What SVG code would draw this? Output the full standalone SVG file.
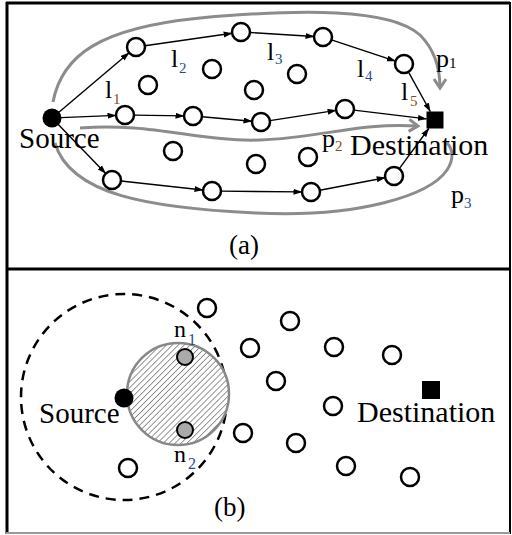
<svg xmlns="http://www.w3.org/2000/svg" width="512" height="535" viewBox="0 0 512 535">
<defs>
<marker id="ah" markerUnits="userSpaceOnUse" markerWidth="9" markerHeight="7" refX="8.5" refY="3" orient="auto"><path d="M0,0 L9,3 L0,6 z" fill="#000"/></marker>
<marker id="gh" markerUnits="userSpaceOnUse" markerWidth="14" markerHeight="16" refX="10" refY="7" orient="auto"><path d="M1,1 L10,7 L1,13" fill="none" stroke="#8c8c8c" stroke-width="3"/></marker>
<pattern id="hatch" patternUnits="userSpaceOnUse" width="4.2" height="4.2" patternTransform="rotate(45)"><rect width="4.2" height="4.2" fill="#fff"/><line x1="0" y1="0" x2="0" y2="4.2" stroke="#5e5e5e" stroke-width="1.3"/></pattern>
</defs>
<style>
.n{fill:#fff;stroke:#000;stroke-width:2.5}
.g{fill:#aaa;stroke:#000;stroke-width:2}
.e{stroke:#000;stroke-width:1.4;fill:none;marker-end:url(#ah)}
.c{stroke:#8c8c8c;stroke-width:3;fill:none}
.t{font-family:"Liberation Serif","Times New Roman",serif;fill:#000}
.b{fill:#2b4c8c}
.o{fill:#8a4b16}
</style>
<rect width="512" height="535" fill="#fff"/>
<g id="frame">
<line x1="6" y1="3" x2="510" y2="3" stroke="#000" stroke-width="3"/>
<line x1="7" y1="2" x2="7" y2="534" stroke="#000" stroke-width="3"/>
<line x1="510" y1="2" x2="510" y2="534" stroke="#000" stroke-width="2"/>
<line x1="6" y1="269" x2="510" y2="269" stroke="#000" stroke-width="3"/>
<line x1="6" y1="533" x2="510" y2="533" stroke="#999" stroke-width="2"/>
</g>
<g id="paths">
<path class="c" d="M53,102 C62,55 100,28 200,18 C300,9 390,8 420,35 C435,50 440,70 440,88" marker-end="url(#gh)"/>
<path class="c" d="M80,128 C150,122 200,142 260,140 C320,138 360,122 418,126" marker-end="url(#gh)"/>
<path class="c" d="M55,143 C70,195 150,208 256,213 C360,218 430,195 447,170 C455,158 452,148 447,143"/>
</g>
<g id="connectors">
<line class="e" x1="58.9" y1="112.2" x2="129.1" y2="52.8"/>
<line class="e" x1="144.9" y1="45.7" x2="232.1" y2="33.3"/>
<line class="e" x1="250" y1="32.5" x2="314" y2="36.5"/>
<line class="e" x1="331.5" y1="39.8" x2="395.5" y2="61.2"/>
<line class="e" x1="408.4" y1="71.9" x2="430.3" y2="111.5"/>
<line class="e" x1="61" y1="117.6" x2="116" y2="115.4"/>
<line class="e" x1="134" y1="115.1" x2="184" y2="115.9"/>
<line class="e" x1="202" y1="116.8" x2="252" y2="121.2"/>
<line class="e" x1="269.9" y1="120.6" x2="336.1" y2="110.4"/>
<line class="e" x1="353.9" y1="110.1" x2="426.5" y2="118.9"/>
<line class="e" x1="58.3" y1="124.5" x2="105.7" y2="173.5"/>
<line class="e" x1="121" y1="181" x2="203" y2="190"/>
<line class="e" x1="221" y1="191.1" x2="302" y2="191.9"/>
<line class="e" x1="319.8" y1="190.3" x2="385.2" y2="177.7"/>
<line class="e" x1="399.3" y1="168.7" x2="428.8" y2="128.5"/>
</g>
<g id="a-source"><circle cx="52" cy="118" r="9.5" fill="#000"/><text class="t" x="19" y="148" font-size="29">Source</text></g>
<g id="a-destination"><rect x="426.5" y="111.5" width="17" height="17" fill="#000"/><text class="t" x="350" y="155" font-size="30">Destination</text></g>
<g id="a-nodes">
<circle class="n" cx="136" cy="47" r="9"/>
<circle class="n" cx="241" cy="32" r="9"/>
<circle class="n" cx="323" cy="37" r="9"/>
<circle class="n" cx="404" cy="64" r="9"/>
<circle class="n" cx="125" cy="115" r="9"/>
<circle class="n" cx="193" cy="116" r="9"/>
<circle class="n" cx="261" cy="122" r="9"/>
<circle class="n" cx="345" cy="109" r="9"/>
<circle class="n" cx="112" cy="180" r="9"/>
<circle class="n" cx="212" cy="191" r="9"/>
<circle class="n" cx="311" cy="192" r="9"/>
<circle class="n" cx="394" cy="176" r="9"/>
<circle class="n" cx="148" cy="85" r="9"/>
<circle class="n" cx="212" cy="69" r="9"/>
<circle class="n" cx="297" cy="74" r="9"/>
<circle class="n" cx="254" cy="90" r="9"/>
<circle class="n" cx="173" cy="151" r="9"/>
<circle class="n" cx="256" cy="164" r="9"/>
<circle class="n" cx="308" cy="157" r="9"/>
</g>
<g id="a-labels">
<text class="t" x="105" y="98" font-size="26">l</text><text class="t o" x="113" y="104" font-size="15">1</text>
<text class="t" x="171" y="67" font-size="26">l</text><text class="t b" x="179" y="73" font-size="15">2</text>
<text class="t" x="267" y="60" font-size="26">l</text><text class="t b" x="275" y="64" font-size="15">3</text>
<text class="t" x="357" y="77" font-size="26">l</text><text class="t b" x="365" y="81" font-size="15">4</text>
<text class="t" x="401" y="100" font-size="26">l</text><text class="t o" x="410" y="106" font-size="15">5</text>
<text class="t" x="436" y="67" font-size="26">p</text><text class="t" x="449" y="68" font-size="15">1</text>
<text class="t" x="322" y="147" font-size="26">p</text><text class="t o" x="335" y="151" font-size="15">2</text>
<text class="t" x="451" y="203" font-size="26">p</text><text class="t b" x="464" y="208" font-size="15">3</text>
<text class="t" x="229" y="254" font-size="27">(a)</text>
</g>
<g id="b-range"><circle cx="124" cy="397" r="103" fill="none" stroke="#000" stroke-width="2.5" stroke-dasharray="10 7"/></g>
<g id="b-hatched"><circle cx="178" cy="394" r="51" fill="url(#hatch)" stroke="#888" stroke-width="2.5"/></g>
<g id="b-n1"><circle class="g" cx="185" cy="357" r="8"/><text class="t" x="174" y="337" font-size="24">n</text><text class="t b" x="188" y="345" font-size="16">1</text></g>
<g id="b-n2"><circle class="g" cx="185" cy="430" r="8"/><text class="t" x="174" y="462" font-size="24">n</text><text class="t b" x="188" y="469" font-size="16">2</text></g>
<g id="b-source"><circle cx="124" cy="398" r="9.5" fill="#000"/><text class="t" x="39" y="423" font-size="29">Source</text></g>
<g id="b-destination"><rect x="422" y="381" width="18" height="18" fill="#000"/><text class="t" x="357" y="422" font-size="30">Destination</text></g>
<g id="b-nodes">
<circle class="n" cx="207" cy="308" r="9"/>
<circle class="n" cx="250" cy="348" r="9"/>
<circle class="n" cx="290" cy="321" r="9"/>
<circle class="n" cx="334" cy="347" r="9"/>
<circle class="n" cx="392" cy="355" r="9"/>
<circle class="n" cx="276" cy="381" r="9"/>
<circle class="n" cx="333" cy="406" r="9"/>
<circle class="n" cx="243" cy="433" r="9"/>
<circle class="n" cx="296" cy="443" r="9"/>
<circle class="n" cx="346" cy="466" r="9"/>
<circle class="n" cx="410" cy="477" r="9"/>
<circle class="n" cx="128" cy="468" r="9"/>
</g>
<g id="b-label"><text class="t" x="214" y="516" font-size="27">(b)</text></g>
</svg>
